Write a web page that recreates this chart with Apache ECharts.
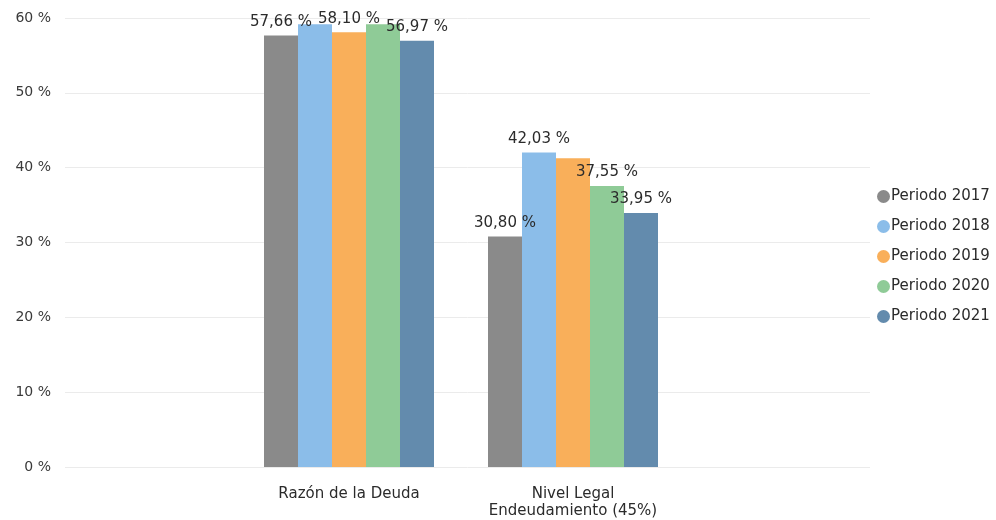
<!DOCTYPE html>
<html>
<head>
<meta charset="utf-8">
<script src="https://cdn.jsdelivr.net/npm/echarts@6/dist/echarts.min.js"></script>
<style>
  html, body { margin: 0; padding: 0; background: #fff; }
  #chart { width: 996px; height: 520px; }
</style>
</head>
<body>
<div id="chart"></div>
<script>
(function () {
  'use strict';

  // datos
  var categories = ['Razón de la Deuda', 'Nivel Legal\nEndeudamiento (45%)'];
  var periods = ['Periodo 2017', 'Periodo 2018', 'Periodo 2019', 'Periodo 2020', 'Periodo 2021'];
  var p2017 = [57.66, 30.80];
  var p2018 = [59.16, 42.03];
  var p2019 = [58.10, 41.25];
  var p2020 = [59.16, 37.55];
  var p2021 = [56.97, 33.95];
  var yTicks = [0, 10, 20, 30, 40, 50, 60];
  // etiquetas que no se ven en el original (se tapan)
  var hiddenLabels = [[], [0], [1], [0], []];

  var colors = ['#8a8a8a', '#8bbde9', '#f9af5a', '#8fcb97', '#638bad'];
  var seriesValues = [p2017, p2018, p2019, p2020, p2021];
  var font = '"DejaVu Sans", Verdana, sans-serif';

  var fmt = function (v) {
    return v.toFixed(2).replace('.', ',') + ' %';
  };

  var series = periods.map(function (name, i) {
    return {
      name: name,
      type: 'bar',
      xAxisIndex: 1,
      yAxisIndex: 1,
      barWidth: 34,
      barGap: '0%',
      itemStyle: { color: colors[i] },
      label: {
        show: true,
        position: 'top',
        distance: 6,
        color: '#2b2b2b',
        fontSize: 15,
        fontFamily: font,
        formatter: function (p) { return fmt(p.value); }
      },
      data: seriesValues[i].map(function (v, j) {
        if (hiddenLabels[i].indexOf(j) >= 0) {
          return { value: v, label: { show: false } };
        }
        return v;
      })
    };
  });

  var chart = echarts.init(document.getElementById('chart'));
  chart.setOption({
    animation: false,
    color: colors,
    legend: {
      orient: 'vertical',
      left: 872,
      top: 184,
      icon: 'circle',
      itemWidth: 13,
      itemHeight: 13,
      itemGap: 15,
      textStyle: { color: '#2b2b2b', fontSize: 15, fontFamily: font, padding: [0, 0, 0, -4] },
      data: periods
    },
    // la segunda rejilla solo lleva las barras, la primera las lineas y el eje y
    grid: [
      { left: 65, right: 126, top: 18, bottom: 53, outerBoundsMode: 'none' },
      { left: 237, width: 448, top: 18, bottom: 53, outerBoundsMode: 'none' }
    ],
    xAxis: [
      { gridIndex: 0, type: 'value', show: false, min: 0, max: 1 },
      {
        gridIndex: 1,
        type: 'category',
        data: categories,
        axisLine: { show: false },
        axisTick: { show: false },
        axisLabel: { color: '#2b2b2b', fontSize: 15, fontFamily: font, margin: 19, lineHeight: 17 }
      }
    ],
    yAxis: [
      {
        gridIndex: 0,
        type: 'value',
        min: yTicks[0],
        max: yTicks[yTicks.length - 1],
        interval: 10,
        axisLine: { show: false },
        axisTick: { show: false },
        axisLabel: { color: '#3a3a3a', fontSize: 14, fontFamily: font, margin: 14, formatter: '{value} %' },
        splitLine: { lineStyle: { color: '#ebebeb' } }
      },
      {
        gridIndex: 1,
        type: 'value',
        min: yTicks[0],
        max: yTicks[yTicks.length - 1],
        show: false,
        splitLine: { show: false }
      }
    ],
    series: series
  });
})();
</script>
</body>
</html>
